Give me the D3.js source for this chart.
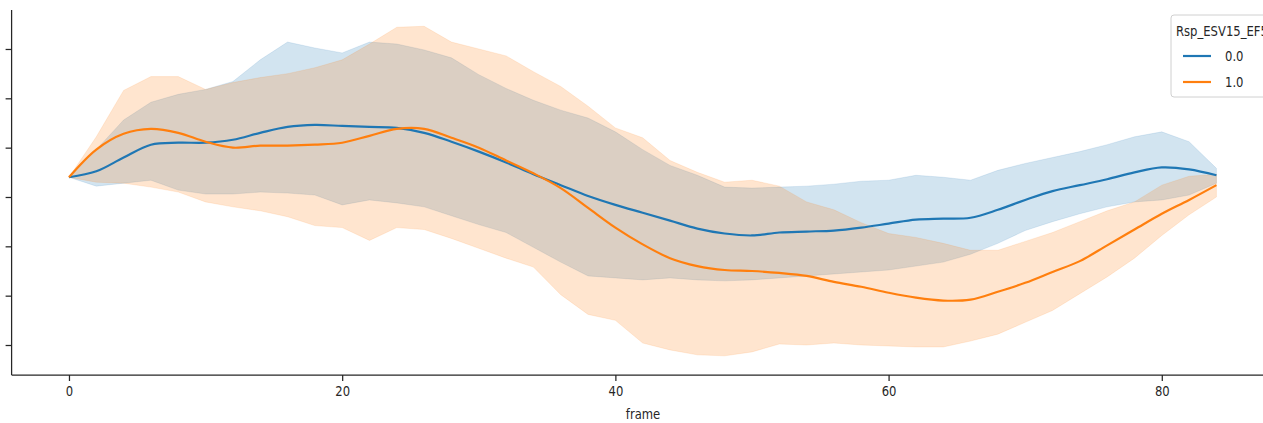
<!DOCTYPE html>
<html>
<head>
<meta charset="utf-8">
<script src="https://cdn.jsdelivr.net/npm/d3@7"></script>
<style>
  body { margin: 0; background: #fff; }
  svg text { font-family: "DejaVu Sans", sans-serif; fill: #262626; }
</style>
</head>
<body>
<div id="chart-area"></div>
<script>
const frames = [0, 2, 4, 6, 8, 10, 12, 14, 16, 18, 20, 22, 24, 26, 28, 30, 32, 34, 36, 38, 40,
                42, 44, 46, 48, 50, 52, 54, 56, 58, 60, 62, 64, 66, 68, 70, 72, 74, 76, 78, 80, 82, 84];

// hue 0.0
const mean0 = [20, 26, 40, 53, 55, 55, 58, 65, 71, 73, 72, 71, 70, 65, 56, 46, 35, 23, 12, 1, -8,
               -16, -24, -32, -37, -39, -36, -35, -34, -31, -27, -23, -22, -21, -13, -3, 6, 12, 18, 25, 30, 28, 22];
const hi0 = [20, 48, 78, 96, 104, 109, 117, 139, 157, 151, 146, 157, 155, 149, 141, 124, 110, 98, 88, 80, 66,
             48, 32, 22, 10, 9, 10, 11, 13, 16, 17, 22, 20, 17, 27, 34, 40, 46, 53, 61, 66, 56, 29];
const lo0 = [20, 11, 14, 17, 7, 3, 3, 5, 4, 2, -8, -3, -6, -10, -19, -28, -36, -51, -66, -80, -82,
             -84, -82, -84, -85, -84, -82, -80, -78, -76, -74, -70, -66, -58, -47, -34, -25, -17, -10, -5, -3, 2, 14];

// hue 1.0
const mean1 = [20, 48, 64, 69, 65, 56, 50, 52, 52, 53, 55, 62, 69, 69, 60, 50, 37, 24, 9, -11, -31,
               -48, -62, -70, -74, -75, -77, -80, -86, -91, -97, -102, -105, -104, -96, -87, -76, -65, -49, -33, -17, -3, 12];
const hi1 = [20, 61, 108, 122, 122, 109, 116, 121, 125, 131, 139, 155, 172, 173, 157, 150, 143, 127, 112, 92, 70,
             60, 37, 25, 15, 17, 11, -5, -13, -26, -37, -41, -47, -54, -54, -45, -36, -25, -14, -5, 12, 21, 23];
const lo1 = [20, 15, 14, 10, 5, -5, -10, -14, -20, -29, -31, -44, -31, -33, -42, -52, -62, -71, -99, -119, -125,
             -148, -155, -160, -161, -157, -149, -150, -148, -150, -151, -152, -152, -146, -139, -127, -115, -98, -81, -62, -39, -18, 0];

const hueLabels = ["0.0", "1.0"];
const xTicks = [0, 20, 40, 60, 80];
const yTicks = [-150, -100, -50, 0, 50, 100, 150];

const series = [
    { label: hueLabels[0], color: "#1f77b4", mean: mean0, lo: lo0, hi: hi0 },
    { label: hueLabels[1], color: "#ff7f0e", mean: mean1, lo: lo1, hi: hi1 }
];

const width = 1263, height = 423;
const squeeze = "scale(0.86,1)";

const svg = d3.select("#chart-area")
    .append("svg")
    .attr("width", width)
    .attr("height", height);

const x = d3.scaleLinear().domain([-4.2, 88.2]).range([11.6, 1273.8]);
const y = d3.scaleLinear().domain([-180.4, 189.5]).range([375, 10]);

// error bands first, lines on top (matplotlib zorder)
const band = d3.area()
    .x((d, i) => x(frames[i]))
    .y0(d => y(d[0]))
    .y1(d => y(d[1]));

svg.append("g")
    .selectAll("path")
    .data(series)
    .join("path")
    .attr("d", s => band(s.lo.map((v, i) => [v, s.hi[i]])))
    .attr("fill", s => s.color)
    .attr("fill-opacity", 0.2)
    .attr("stroke", s => s.color)
    .attr("stroke-opacity", 0.12)
    .attr("stroke-width", 1);

const line = d3.line()
    .x((d, i) => x(frames[i]))
    .y(d => y(d))
    .curve(d3.curveCatmullRom.alpha(0.5));

svg.append("g")
    .selectAll("path")
    .data(series)
    .join("path")
    .attr("d", s => line(s.mean))
    .attr("fill", "none")
    .attr("stroke", s => s.color)
    .attr("stroke-width", 2.2);

// axes
const xAxis = svg.append("g")
    .attr("transform", "translate(0,375)")
    .call(d3.axisBottom(x).tickValues(xTicks).tickSize(6).tickPadding(5));
xAxis.select(".domain").attr("d", "M11.6,0H1263");
xAxis.selectAll("text")
    .attr("font-size", 13.5)
    .attr("transform", squeeze);

const yAxis = svg.append("g")
    .attr("transform", "translate(11.6,0)")
    .call(d3.axisLeft(y).tickValues(yTicks).tickSize(6).tickFormat(""));
yAxis.select(".domain").attr("d", "M0,10V375");

svg.selectAll(".domain, .tick line")
    .attr("stroke", "#262626")
    .attr("stroke-width", 1.25);

svg.append("text")
    .attr("transform", `translate(643,419) ${squeeze}`)
    .attr("text-anchor", "middle")
    .attr("font-size", 13.5)
    .text("frame");

// legend
const lg = svg.append("g").attr("transform", "translate(1171,15)");
lg.append("rect")
    .attr("width", 110)
    .attr("height", 82)
    .attr("rx", 3)
    .attr("fill", "#fff")
    .attr("fill-opacity", 0.8)
    .attr("stroke", "#d0d0d0");
lg.append("text")
    .attr("transform", `translate(5,21) ${squeeze}`)
    .attr("font-size", 13.5)
    .text("Rsp_ESV15_EF5");

const item = lg.selectAll("g.item")
    .data(series)
    .join("g")
    .attr("class", "item")
    .attr("transform", (s, i) => `translate(0,${41 + i * 26})`);
item.append("line")
    .attr("x1", 12).attr("x2", 40)
    .attr("stroke", s => s.color)
    .attr("stroke-width", 2.2);
item.append("text")
    .attr("transform", `translate(54,5) ${squeeze}`)
    .attr("font-size", 13.5)
    .text(s => s.label);
</script>
</body>
</html>
